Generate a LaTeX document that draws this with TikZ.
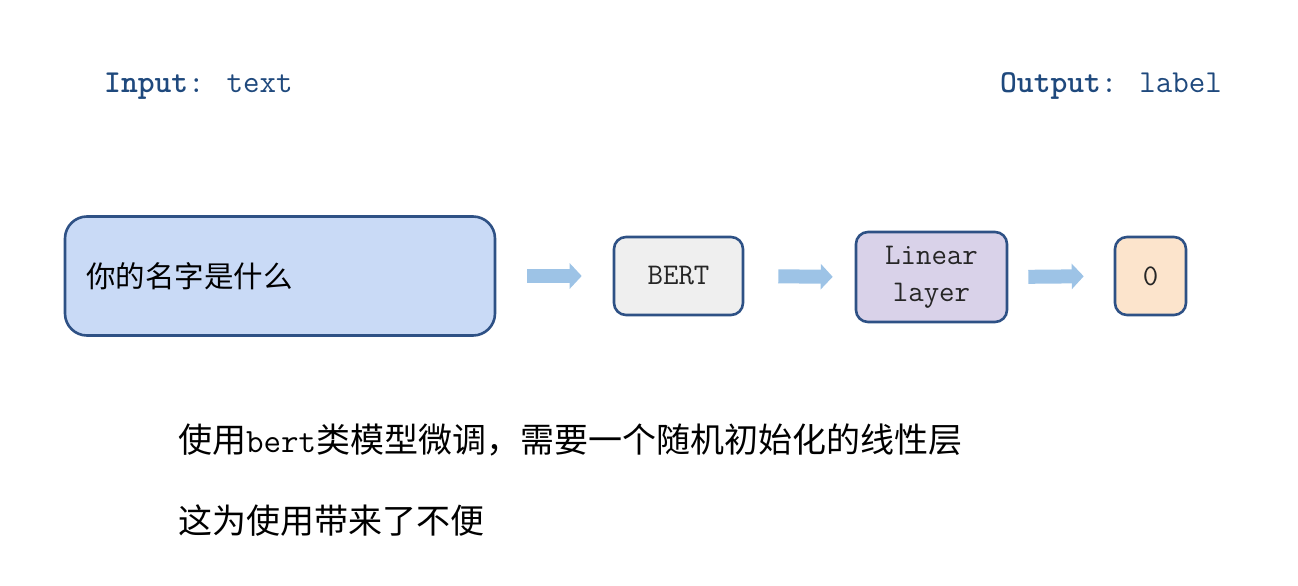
\documentclass[tikz,border=0pt]{standalone}
\usepackage{fontspec}
\usetikzlibrary{arrows.meta}
\newfontfamily\cjk{Noto Sans CJK SC}
\definecolor{bord}{HTML}{2E5185}
\definecolor{infill}{HTML}{C9DAF6}
\definecolor{bertfill}{HTML}{EFEFEF}
\definecolor{linfill}{HTML}{D9D2E9}
\definecolor{outfill}{HTML}{FCE4CC}
\definecolor{arrowc}{HTML}{9DC3E6}
\definecolor{titlec}{HTML}{1F497D}
\tikzset{
  blockbox/.style={draw=bord, line width=2.6pt, rounded corners=12pt, inner sep=0pt},
  blockarrow/.style={arrowc, line width=14pt, -{Triangle[length=12pt,width=25pt]}},
  monotext/.style={font=\fontsize{30}{37}\selectfont\ttfamily, text=black!85},
}
\begin{document}
\begin{tikzpicture}[x=1pt,y=-1pt]
\useasboundingbox (0,0) rectangle (1298,586);
% title texts
\node[anchor=west, inner sep=0pt, text=titlec, font=\fontsize{32}{36}\selectfont\ttfamily] (inlab) at (104,86) {\textbf{Input}: text};
\node[anchor=east, inner sep=0pt, text=titlec, font=\fontsize{32}{36}\selectfont\ttfamily] (outlab) at (1222,86) {\textbf{Output}: label};
% boxes
\node[blockbox, fill=infill, rounded corners=22pt, minimum width=430pt, minimum height=119pt] (in) at (280,276) {};
\node[anchor=west, inner sep=0pt, font=\fontsize{29.5}{34}\selectfont\cjk] (intext) at (86,276) {你的名字是什么};
\node[blockbox, fill=bertfill, minimum width=129pt, minimum height=78pt, monotext] (bert) at (678.5,276) {BERT};
\node[blockbox, fill=linfill, minimum width=151pt, minimum height=90pt, monotext, align=center] (lin) at (931.5,277) {Linear\\layer};
\node[blockbox, fill=outfill, minimum width=71pt, minimum height=78pt, monotext] (out) at (1150.5,276) {0};
% arrows
\draw[blockarrow, shorten <=31pt, shorten >=31pt] (in.east) -- (bert.west);
\draw[blockarrow, shorten <=34pt, shorten >=22pt] (bert.east) -- (lin.west);
\draw[blockarrow, shorten <=20pt, shorten >=30pt] (lin.east) -- (out.west);
% bottom texts
\node[anchor=west, inner sep=0pt, font=\fontsize{34}{40}\selectfont\cjk] (note1) at (178,440) {使用{\ttfamily bert}类模型微调，需要一个随机初始化的线性层};
\node[anchor=west, inner sep=0pt, font=\fontsize{34}{40}\selectfont\cjk] (note2) at (178,521) {这为使用带来了不便};
\end{tikzpicture}
\end{document}
